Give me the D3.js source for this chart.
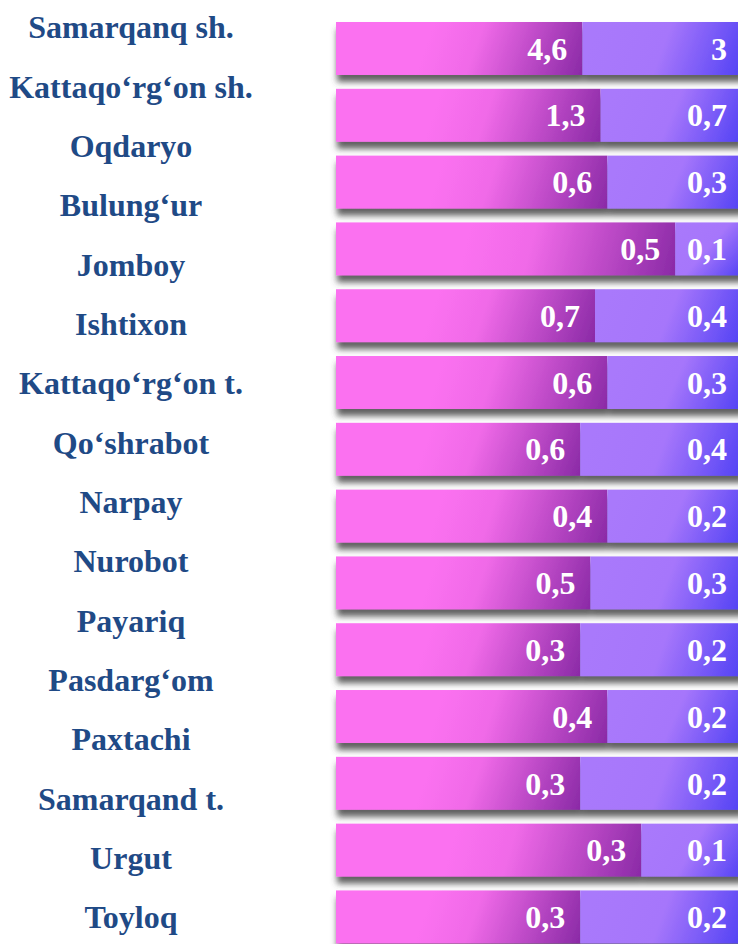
<html>
<head>
  <script src="https://d3js.org/d3.v7.min.js"></script>
  <style>
    body { margin: 0; background: #fff; }
    .name { font-family: "Liberation Serif", "Times New Roman", serif; font-weight: bold; font-size: 32px; fill: #1f4a86; }
    .val { font-family: "Liberation Serif", "Times New Roman", serif; font-weight: bold; font-size: 32px; fill: #fff; }
  </style>
</head>
<body>
  <script>
    var width = 738,
    height = 944;

    // district names (left column)
    var districts = ["Samarqanq sh.", "Kattaqo\u2018rg\u2018on sh.", "Oqdaryo", "Bulung\u2018ur", "Jomboy",
      "Ishtixon", "Kattaqo\u2018rg\u2018on t.", "Qo\u2018shrabot", "Narpay", "Nurobot", "Payariq",
      "Pasdarg\u2018om", "Paxtachi", "Samarqand t.", "Urgut", "Toyloq"];

    // bar values, top to bottom
    var first  = [4.6, 1.3, 0.6, 0.5, 0.7, 0.6, 0.6, 0.4, 0.5, 0.3, 0.4, 0.3, 0.3, 0.3];
    var second = [3,   0.7, 0.3, 0.1, 0.4, 0.3, 0.4, 0.2, 0.3, 0.2, 0.2, 0.2, 0.1, 0.2];

    var rows = first.map(function(v, i){ return { i: i, a: v, b: second[i] }; });

    var svg = d3.select( "body" )
      .append( "svg" )
      .attr( "width", width )
      .attr( "height", height );

    var defs = svg.append( "defs" );
    var shadow = defs.append( "filter" ).attr( "id", "shadow" )
      .attr( "x", "-5%" ).attr( "y", "-20%" ).attr( "width", "115%" ).attr( "height", "170%" );
    shadow.append( "feDropShadow" )
      .attr( "dx", 1 ).attr( "dy", 7 ).attr( "stdDeviation", 3 )
      .attr( "flood-color", "#444" ).attr( "flood-opacity", 0.85 );

    var y = d3.scaleBand()
      .domain( d3.range( rows.length ) )
      .range( [22, 943.4] )
      .paddingInner( 0.207 )
      .paddingOuter( 0 );

    var x = d3.scaleLinear()
      .domain( [0, 1] )
      .range( [336, 743] );

    var yName = d3.scalePoint()
      .domain( districts )
      .range( [27, 917] );

    svg.append( "g" ).selectAll( "text" )
      .data( districts )
      .enter()
      .append( "text" )
      .attr( "class", "name" )
      .attr( "x", 131 )
      .attr( "y", function(d){ return yName(d); } )
      .attr( "dy", "0.35em" )
      .attr( "text-anchor", "middle" )
      .text( function(d){ return d; } );

    function gradient(id, x0, x1, top, h, frac, stops){
      var g = defs.append( "linearGradient" ).attr( "id", id )
        .attr( "gradientUnits", "userSpaceOnUse" )
        .attr( "x1", x1 - frac * (x1 - x0) ).attr( "y1", top )
        .attr( "x2", x1 ).attr( "y2", top + h );
      stops.forEach(function(s){
        g.append( "stop" ).attr( "offset", s[0] ).attr( "stop-color", s[1] );
      });
    }

    var bars = svg.append( "g" ).attr( "id", "bars" );

    rows.forEach(function(r){
      var total = r.a + r.b,
        top = y(r.i),
        h = y.bandwidth(),
        xa = x(0),
        xm = x(r.a / total),
        xb = x(1);

      gradient( "ga" + r.i, xa, xm, top, h, 0.6,
        [[0, "#fb71f0"], [0.3, "#f06ae8"], [1, "#8a2aa6"]] );
      gradient( "gb" + r.i, xm, xb, top, h, 0.9,
        [[0, "#a979fb"], [0.45, "#a676fb"], [1, "#5041f4"]] );

      var g = bars.append( "g" ).attr( "filter", "url(#shadow)" );
      g.append( "rect" )
        .attr( "x", xa ).attr( "y", top )
        .attr( "width", xm - xa ).attr( "height", h )
        .attr( "fill", "url(#ga" + r.i + ")" );
      g.append( "rect" )
        .attr( "x", xm ).attr( "y", top )
        .attr( "width", xb - xm ).attr( "height", h )
        .attr( "fill", "url(#gb" + r.i + ")" );

      bars.append( "text" ).attr( "class", "val" )
        .attr( "x", xm - 15 ).attr( "y", top + h / 2 )
        .attr( "dy", "0.35em" ).attr( "text-anchor", "end" )
        .text( String(r.a).replace( ".", "," ) );
      bars.append( "text" ).attr( "class", "val" )
        .attr( "x", xb - 16 ).attr( "y", top + h / 2 )
        .attr( "dy", "0.35em" ).attr( "text-anchor", "end" )
        .text( String(r.b).replace( ".", "," ) );
    });
  </script>
</body>
</html>
